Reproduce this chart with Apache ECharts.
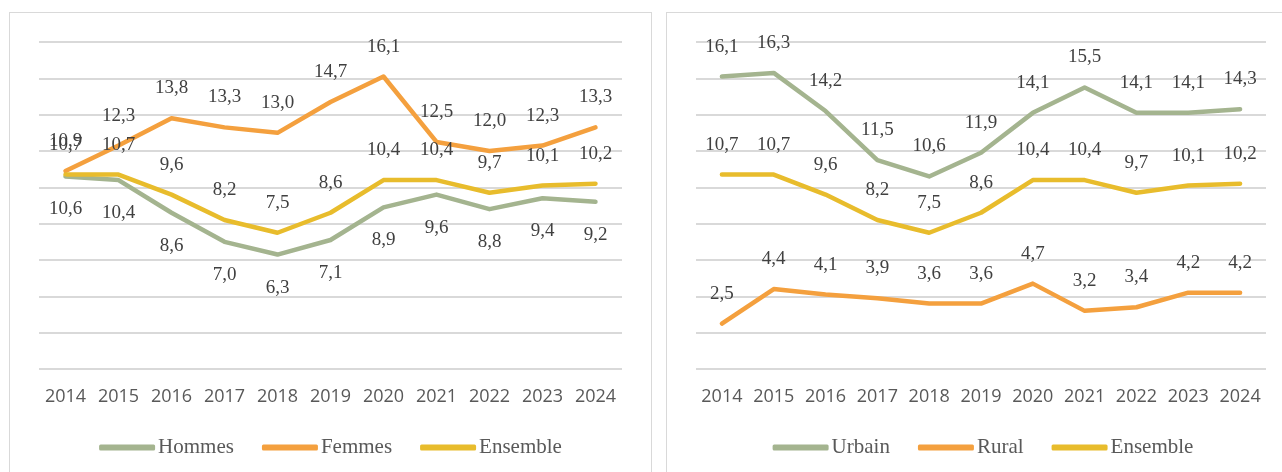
<!DOCTYPE html>
<html>
<head>
<meta charset="utf-8">
<script src="https://cdn.jsdelivr.net/npm/echarts@6/dist/echarts.min.js"></script>
<style>
  body { margin: 0; background: #fff; width: 1282px; height: 472px; overflow: hidden; position: relative; }
  .panel { position: absolute; top: 12px; height: 470px; border: 1px solid #d9d9d9; background: #fff; }
  #left { left: 9px; width: 641px; }
  #right { left: 666px; width: 632px; }
</style>
</head>
<body>
<div id="left" class="panel"></div>
<div id="right" class="panel"></div>
<script>
const years = ['2014', '2015', '2016', '2017', '2018', '2019', '2020', '2021', '2022', '2023', '2024'];

const hommes   = [10.6, 10.4, 8.6, 7.0, 6.3, 7.1, 8.9, 9.6, 8.8, 9.4, 9.2];
const femmes   = [10.9, 12.3, 13.8, 13.3, 13.0, 14.7, 16.1, 12.5, 12.0, 12.3, 13.3];
const ensemble = [10.7, 10.7, 9.6, 8.2, 7.5, 8.6, 10.4, 10.4, 9.7, 10.1, 10.2];
const urbain   = [16.1, 16.3, 14.2, 11.5, 10.6, 11.9, 14.1, 15.5, 14.1, 14.1, 14.3];
const rural    = [2.5, 4.4, 4.1, 3.9, 3.6, 3.6, 4.7, 3.2, 3.4, 4.2, 4.2];

const GREEN = '#a4b48f';
const ORANGE = '#f4a03e';
const YELLOW = '#e8bc2c';

function makeSeries(name, data, color, below) {
    return {
        name: name,
        type: 'line',
        data: data,
        color: color,
        symbol: 'circle',
        symbolSize: 1,
        lineStyle: { width: 4.5, color: color, cap: 'round', join: 'round' },
        itemStyle: { color: color },
        label: {
            show: true,
            position: below ? 'bottom' : 'top',
            distance: below ? 23 : 20,
            fontFamily: '"Liberation Serif", serif',
            fontSize: 19,
            color: '#404040',
            formatter: (p) => p.value.toFixed(1).replace('.', ',')
        },
        emphasis: { disabled: true },
        animation: false
    };
}

function getOption(gridWidth, series) {
    return {
        animation: false,
        grid: { left: 29, top: 29, width: gridWidth, height: 327 },
        xAxis: {
            type: 'category',
            data: years,
            boundaryGap: true,
            axisLine: { show: false },
            axisTick: { show: false },
            axisLabel: {
                interval: 0,
                margin: 19,
                fontFamily: '"Open Sans", sans-serif',
                fontSize: 18,
                color: '#595959'
            }
        },
        yAxis: {
            type: 'value',
            min: 0,
            max: 18,
            interval: 2,
            axisLabel: { show: false },
            axisLine: { show: false },
            axisTick: { show: false },
            splitLine: { lineStyle: { color: '#d9d9d9', width: 2 } }
        },
        legend: {
            left: 'center',
            top: 419,
            icon: 'roundRect',
            itemWidth: 56,
            itemHeight: 6,
            itemGap: 28,
            textStyle: {
                fontFamily: '"Liberation Serif", serif',
                fontSize: 21,
                color: '#595959',
                padding: [0, 0, 0, -2]
            }
        },
        series: series
    };
}

let leftChart = echarts.init(document.getElementById('left'));
leftChart.setOption(getOption(583, [
    makeSeries('Hommes', hommes, GREEN, true),
    makeSeries('Femmes', femmes, ORANGE, false),
    makeSeries('Ensemble', ensemble, YELLOW, false)
]));

let rightChart = echarts.init(document.getElementById('right'));
rightChart.setOption(getOption(570, [
    makeSeries('Urbain', urbain, GREEN, false),
    makeSeries('Rural', rural, ORANGE, false),
    makeSeries('Ensemble', ensemble, YELLOW, false)
]));
</script>
</body>
</html>
